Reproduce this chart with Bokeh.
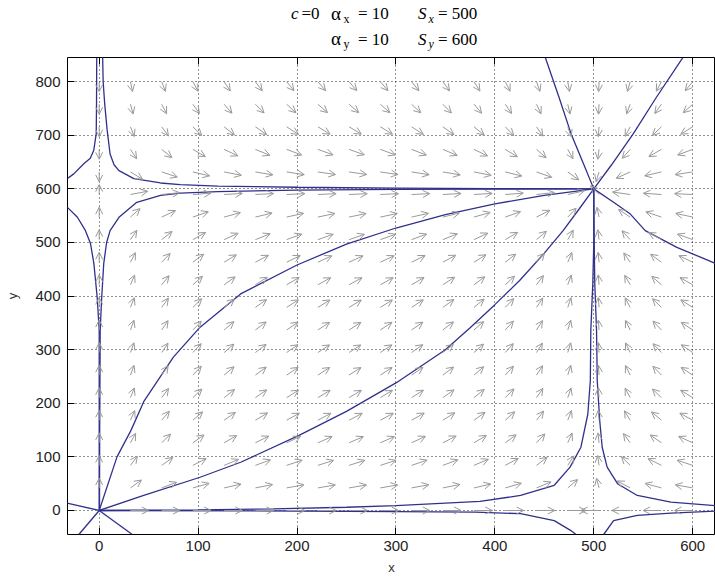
import numpy as np
from bokeh.plotting import figure
from bokeh.models import (ColumnDataSource, Range1d, FixedTicker, LinearAxis,
                          Arrow, OpenHead, Div)
from bokeh.layouts import column
from bokeh.embed import file_html
from bokeh.resources import INLINE

# ---------------- data ----------------
x_ticks = [0, 100, 200, 300, 400, 500, 600]
y_ticks = [0, 100, 200, 300, 400, 500, 600, 700, 800]

# direction field: grid columns / rows and the rate read for each
field_x = [0, 31.6, 63.2, 94.7, 126.3, 157.9, 189.5, 221.1, 252.6, 284.2,
           315.8, 347.4, 378.9, 410.5, 442.1, 473.7, 505.3, 536.8, 568.4, 600]
rate_x = [0, 296, 552, 768, 944, 1080, 1177, 1233, 1250, 1227,
          1163, 1060, 918, 735, 512, 249, -54, -395, -778, -1200]
field_y = [0, 42.1, 84.2, 126.3, 168.4, 210.5, 252.6, 294.7, 336.8, 378.9,
           421.1, 463.2, 505.3, 547.4, 589.5, 631.6, 673.7, 715.8, 757.9, 800]
rate_y = [0, 391, 724, 997, 1211, 1367, 1463, 1500, 1478, 1396,
          1256, 1056, 797, 480, 103, -332, -827, -1381, -1995, -2667]

# trajectories (blue curves)
traj_top_right_x = [3.5, 4, 5.5, 8, 11, 15, 20, 35, 62, 82, 120, 200, 300, 400, 500]
traj_top_right_y = [845, 800, 760, 710, 665, 645, 634, 619, 611, 608, 605, 603, 601.5, 600.5, 600]
traj_top_left_x = [-2.5, -2.7, -3, -5.5, -9, -15.6, -25.7, -32.4]
traj_top_left_y = [845, 760, 703, 672, 657, 647, 628, 619]
traj_left_low_x = [-32.4, -22, -13.9, -8.8, -5.4, -2, 0, 0, 0]
traj_left_low_y = [566, 547, 522, 498, 461, 397, 336, 150, 0]
traj_right_low_x = [0.3, 0.5, 1, 2.5, 4.6, 7.5, 11, 20, 38, 62, 82, 120, 200, 300, 400, 500]
traj_right_low_y = [0, 150, 336, 397, 461, 500, 522, 547, 575, 588, 592, 595, 597.5, 599, 599.7, 600]
traj_upper_x = [0, 18, 32, 45, 75, 102, 143, 200, 250, 300, 350, 400, 450, 500]
traj_upper_y = [0, 100, 149, 203, 286, 342, 404, 458, 497, 527, 552, 572, 588, 600]
traj_lower_x = [0, 45, 102, 143, 202, 250, 300, 350, 375, 400, 425, 450, 469, 485, 500]
traj_lower_y = [0, 28, 62, 90, 140, 185, 238, 300, 341, 384, 429, 480, 522, 562, 600]
traj_o_left_x = [0, -32.5]
traj_o_left_y = [0, 13.6]
traj_o_down_right_x = [0, 33.5]
traj_o_down_right_y = [0, -44.8]
traj_o_down_left_x = [0, -20.6]
traj_o_down_left_y = [0, -44.8]
traj_axis_up_x = [0, 100, 176, 250, 300, 385, 426, 460, 476, 487, 494, 496.5, 497, 499, 500, 500]
traj_axis_up_y = [0, 1, 3, 6, 9, 17, 28, 47, 81, 118, 180, 242, 336, 423, 500, 600]
traj_axis_down_x = [0, 200, 300, 380, 426, 460, 476.5, 482]
traj_axis_down_y = [0, -1, -2, -3, -6, -19, -37, -44.8]
traj_right_up_x = [623, 578, 544, 524, 513.5, 508.5, 506, 503.5, 502.8, 501, 500.3, 500]
traj_right_up_y = [9, 15.5, 28, 50, 81, 118, 168, 242, 336, 423, 520, 600]
traj_right_down_x = [510, 520, 544, 578, 623]
traj_right_down_y = [-44.8, -18.7, -9, -5, -1.3]
traj_node_tl_x = [451, 465, 477, 490, 500]
traj_node_tl_y = [845, 770, 703, 645, 600]
traj_node_tr_x = [590, 563, 540, 518, 500]
traj_node_tr_y = [845, 770, 703, 645, 600]
traj_node_br_x = [500, 520, 537, 552, 584, 623]
traj_node_br_y = [600, 575, 553, 522, 491, 461]

trajectories = [
    (traj_top_right_x, traj_top_right_y), (traj_top_left_x, traj_top_left_y),
    (traj_left_low_x, traj_left_low_y), (traj_right_low_x, traj_right_low_y),
    (traj_upper_x, traj_upper_y), (traj_lower_x, traj_lower_y),
    (traj_o_left_x, traj_o_left_y), (traj_o_down_right_x, traj_o_down_right_y),
    (traj_o_down_left_x, traj_o_down_left_y), (traj_axis_up_x, traj_axis_up_y),
    (traj_axis_down_x, traj_axis_down_y), (traj_right_up_x, traj_right_up_y),
    (traj_right_down_x, traj_right_down_y), (traj_node_tl_x, traj_node_tl_y),
    (traj_node_tr_x, traj_node_tr_y), (traj_node_br_x, traj_node_br_y),
]

# ---------------- header (model parameters) ----------------
def piece(left, top, text, size=17, italic=False):
    style = ("position:absolute;left:%spx;top:%spx;font-family:'Liberation Serif';"
             "font-size:%dpx;line-height:1;white-space:nowrap;color:black;%s"
             % (left, top, size, "font-style:italic;" if italic else ""))
    return '<span style="%s">%s</span>' % (style, text)

hdr = "".join([
    piece(291, 5.3, "c", italic=True), piece(301.5, 5.3, "=0"),
    piece(331, 3.6, "α", size=19), piece(343.5, 12.5, "x", size=12), piece(358, 5.3, "= 10"),
    piece(418, 5.3, "S", italic=True), piece(428.5, 12.5, "x", size=12, italic=True),
    piece(438, 5.3, "= 500"),
    piece(331, 29.1, "α", size=19), piece(343.5, 38, "y", size=12), piece(358, 30.8, "= 10"),
    piece(418, 30.8, "S", italic=True), piece(428.5, 38, "y", size=12, italic=True),
    piece(438, 30.8, "= 600"),
])
header = Div(text='<div style="position:relative;width:715px;height:50px;">%s</div>' % hdr,
             width=715, height=50, margin=0)

# ---------------- figure ----------------
p = figure(width=715, height=529, output_backend="svg", toolbar_location=None,
           x_range=Range1d(-32.05, 623.05), y_range=Range1d(-44.8, 845.1),
           min_border_left=67, min_border_right=0, min_border_top=7,
           min_border_bottom=45, margin=0)
p.background_fill_color = "white"
p.border_fill_color = "white"
p.outline_line_color = "black"
p.outline_line_width = 1

TICK_FONT = "Liberation Sans"
for ax, ticks in ((p.xaxis[0], x_ticks), (p.yaxis[0], y_ticks)):
    ax.ticker = FixedTicker(ticks=ticks)
    ax.major_tick_in = 7
    ax.major_tick_out = 0
    ax.minor_tick_line_color = None
    ax.axis_line_color = None
    ax.major_tick_line_color = "black"
    ax.major_label_text_font = TICK_FONT
    ax.major_label_text_font_size = "15px"
    ax.major_label_text_color = "#222222"
    ax.axis_label_text_font = TICK_FONT
    ax.axis_label_text_font_style = "normal"
    ax.axis_label_text_font_size = "13px"
    ax.axis_label_text_color = "#333333"

p.xaxis[0].axis_label = "x"
p.xaxis[0].major_label_standoff = 6
p.xaxis[0].axis_label_standoff = 6
p.yaxis[0].axis_label = "y"
p.yaxis[0].major_label_standoff = 7
p.yaxis[0].axis_label_standoff = 12

top_axis = LinearAxis(ticker=FixedTicker(ticks=x_ticks), major_tick_in=7,
                      major_tick_out=0, minor_tick_line_color=None,
                      axis_line_color=None, major_label_standoff=0,
                      major_label_text_font_size="1px",
                      major_label_overrides={t: "" for t in x_ticks})
p.add_layout(top_axis, "above")

for g, ticks in ((p.xgrid[0], x_ticks), (p.ygrid[0], y_ticks)):
    g.ticker = FixedTicker(ticks=ticks)
    g.grid_line_color = "black"
    g.grid_line_alpha = 0.85
    g.grid_line_dash = "1 3"
    g.grid_line_width = 1

# trajectories
for tx, ty in trajectories:
    p.line(tx, ty, line_color="#30308c", line_width=1.3)

# direction field (unit vectors in data units)
L = 18.5
xs, ys, xe, ye = [], [], [], []
for i, gx in enumerate(field_x):
    for j, gy in enumerate(field_y):
        u, v = rate_x[i], rate_y[j]
        m = float(np.hypot(u, v))
        if m == 0:
            continue
        xs.append(gx); ys.append(gy)
        xe.append(gx + L * u / m); ye.append(gy + L * v / m)
arrow_src = ColumnDataSource(dict(xs=xs, ys=ys, xe=xe, ye=ye))
p.add_layout(Arrow(end=OpenHead(size=7, line_color="#9a9a9a", line_width=1),
                   x_start="xs", y_start="ys", x_end="xe", y_end="ye",
                   source=arrow_src, line_color="#9a9a9a", line_width=1))

layout = column(header, p, spacing=0, margin=0)
open("out.html", "w").write(file_html(layout, INLINE))
